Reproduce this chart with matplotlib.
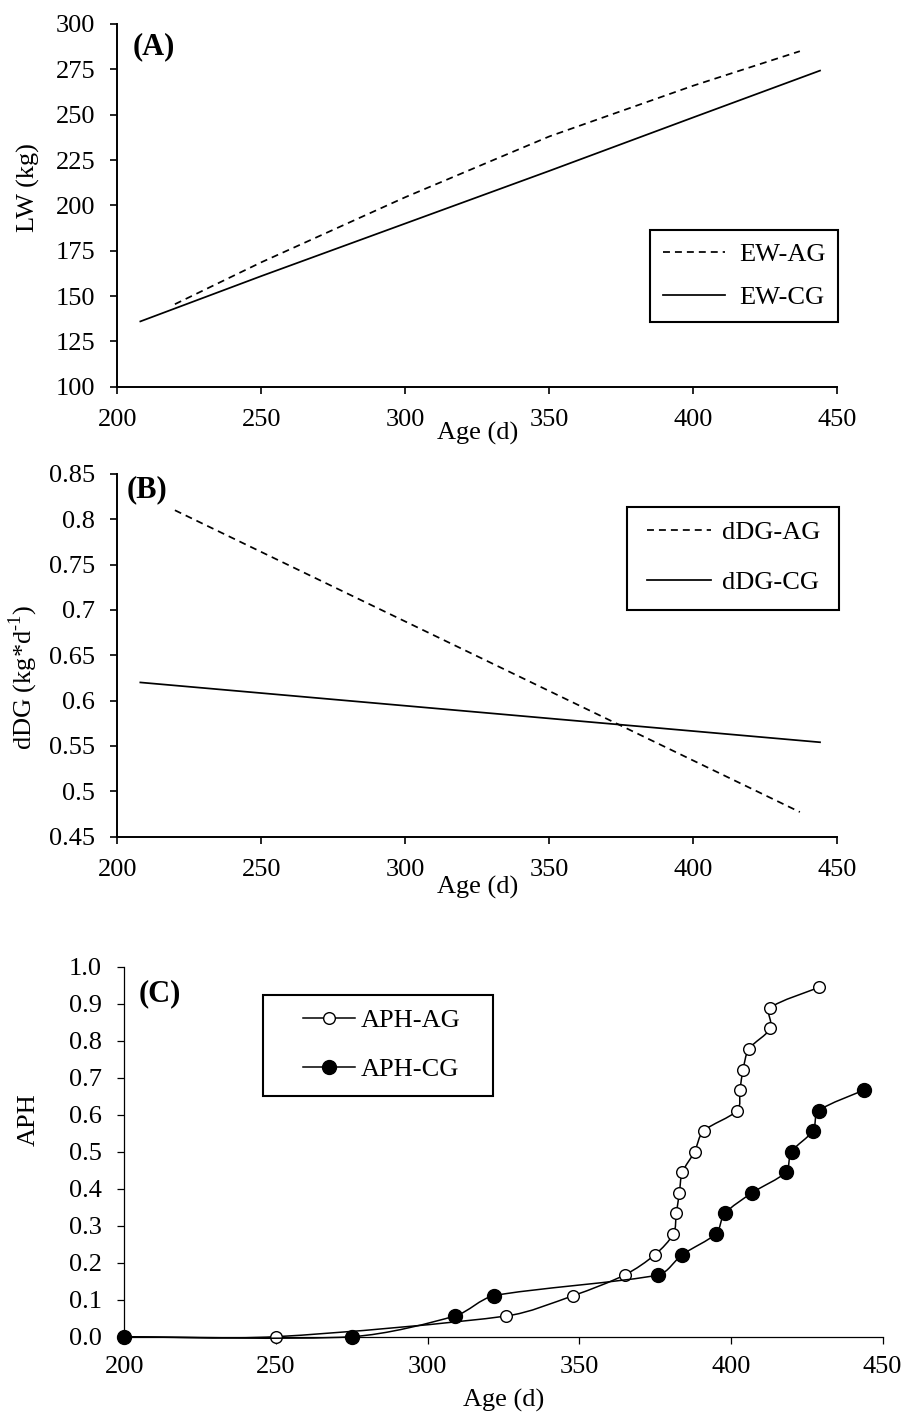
import numpy as np
import matplotlib
matplotlib.use("Agg")
import matplotlib.pyplot as plt
from matplotlib.path import Path
from matplotlib.patches import PathPatch, Rectangle
from matplotlib.lines import Line2D

# ---------------- data ----------------
# Panel A: live weight (kg)
age_ew_ag = [220, 250, 300, 350, 400, 437]
ew_ag = [145.5, 168.6, 204.5, 238.0, 266.0, 285.0]
age_ew_cg = [208, 250, 300, 350, 400, 444]
ew_cg = [136.0, 161.0, 190.0, 219.0, 248.5, 274.3]

# Panel B: daily gain (kg/d)
age_ddg_ag = [220, 437]
ddg_ag = [0.810, 0.477]
age_ddg_cg = [208, 444]
ddg_cg = [0.620, 0.554]

# Panel C: APH
age_aph_ag = [200, 250, 326, 348, 365, 375, 381, 382, 383, 384, 388, 391,
              402, 403, 404, 406, 413, 413, 429]
aph_ag = [0.0, 0.0, 0.056, 0.111, 0.167, 0.222, 0.278, 0.333, 0.389, 0.444,
          0.5, 0.556, 0.611, 0.667, 0.722, 0.778, 0.833, 0.889, 0.944]
age_aph_cg = [200, 275, 309, 322, 376, 384, 395, 398, 407, 418, 420, 427, 429, 444]
aph_cg = [0.0, 0.0, 0.056, 0.111, 0.167, 0.222, 0.278, 0.333, 0.389, 0.444,
          0.5, 0.556, 0.611, 0.667]

x_ticks = [200, 250, 300, 350, 400, 450]
a_yticks = [100, 125, 150, 175, 200, 225, 250, 275, 300]
b_yticks = [0.45, 0.5, 0.55, 0.6, 0.65, 0.7, 0.75, 0.8, 0.85]
b_yticklabels = ["0.45", "0.5", "0.55", "0.6", "0.65", "0.7", "0.75", "0.8", "0.85"]
c_yticks = [0.0, 0.1, 0.2, 0.3, 0.4, 0.5, 0.6, 0.7, 0.8, 0.9, 1.0]
c_yticklabels = ["%.1f" % v for v in c_yticks]

# ---------------- style ----------------
plt.rcParams['font.family'] = ['Liberation Serif', 'DejaVu Serif']
plt.rcParams['mathtext.fontset'] = 'custom'
plt.rcParams['mathtext.rm'] = 'Liberation Serif'
plt.rcParams['lines.scale_dashes'] = False
FS = 19

W, H = 906, 1416
fig = plt.figure(figsize=(W / 100, H / 100), dpi=100)


def px_rect(left, top, right, bottom):
    return [left / W, 1 - bottom / H, (right - left) / W, (bottom - top) / H]


def style_axes(ax, lw, tw):
    for s in ['top', 'right']:
        ax.spines[s].set_visible(False)
    for s in ['left', 'bottom']:
        ax.spines[s].set_linewidth(lw)
    ax.tick_params(axis='both', direction='out', length=5, width=tw,
                   labelsize=FS, colors='black')
    ax.tick_params(axis='y', pad=11)
    ax.tick_params(axis='x', pad=11)


def smooth_path(xs, ys, sx, sy, limit=1.0 / 3.0):
    """Bezier smoothing (Excel-like); control vectors limited in screen scale."""
    pts = np.column_stack([np.asarray(xs, float) * sx, np.asarray(ys, float) * sy])
    n = len(pts)
    verts = [pts[0]]
    codes = [Path.MOVETO]
    for i in range(n - 1):
        p0 = pts[i - 1] if i > 0 else pts[i]
        p1 = pts[i]
        p2 = pts[i + 1]
        p3 = pts[i + 2] if i + 2 < n else pts[i + 1]
        seg = np.hypot(*(p2 - p1))
        d1 = (p2 - p0) / 6.0
        d2 = (p3 - p1) / 6.0
        for d in (d1, d2):
            L = np.hypot(*d)
            if L > limit * seg and L > 0:
                d *= limit * seg / L
        verts += [p1 + d1, p2 - d2, p2]
        codes += [Path.CURVE4] * 3
    v = np.array(verts)
    v[:, 0] /= sx
    v[:, 1] /= sy
    return Path(v, codes)


def legend_box(left, top, right, bottom, lw=1.5):
    fig.patches.append(Rectangle((left / W, 1 - bottom / H), (right - left) / W,
                                 (bottom - top) / H, transform=fig.transFigure,
                                 fill=False, edgecolor='black', linewidth=lw,
                                 zorder=10))


DASH = (0, (5, 3.6))

# ---------------- Panel A ----------------
axA = fig.add_axes(px_rect(117.3, 24, 837.3, 386.7))
style_axes(axA, 1.4, 1.2)
lA1, = axA.plot(age_ew_ag, ew_ag, color='black', lw=1.25, linestyle=DASH)
lA2, = axA.plot(age_ew_cg, ew_cg, color='black', lw=1.25)
axA.set_xlim(200, 450)
axA.set_ylim(100, 300)
axA.set_xticks(x_ticks)
axA.set_yticks(a_yticks)
axA.set_xlabel('Age (d)', fontsize=FS)
axA.xaxis.set_label_coords(0.5, -0.097)
axA.set_ylabel('LW (kg)', fontsize=FS)
axA.yaxis.set_label_coords(-0.107, 0.55)
fig.text(133 / W, 1 - 47 / H, '(A)', fontsize=22, fontweight='bold', va='center', ha='left')
fig.legend([lA1, lA2], ['EW-AG', 'EW-CG'], loc='upper left',
           bbox_to_anchor=(663 / W, 1 - 242.5 / H), frameon=False, fontsize=FS,
           borderpad=0, borderaxespad=0, handlelength=2.35, handletextpad=0.53,
           labelspacing=0.76)
legend_box(650, 230, 838, 322)

# ---------------- Panel B ----------------
axB = fig.add_axes(px_rect(117.3, 474, 837.3, 836.5))
style_axes(axB, 1.4, 1.2)
lB1, = axB.plot(age_ddg_ag, ddg_ag, color='black', lw=1.25, linestyle=DASH)
lB2, = axB.plot(age_ddg_cg, ddg_cg, color='black', lw=1.25)
axB.set_xlim(200, 450)
axB.set_ylim(0.45, 0.85)
axB.set_xticks(x_ticks)
axB.set_yticks(b_yticks)
axB.set_yticklabels(b_yticklabels)
axB.set_xlabel('Age (d)', fontsize=FS)
axB.xaxis.set_label_coords(0.5, -0.108)
axB.set_ylabel('dDG (kg*d$^{\\mathregular{\u2010}1}$)', fontsize=FS)
axB.yaxis.set_label_coords(-0.107, 0.44)
fig.text(127 / W, 1 - 490 / H, '(B)', fontsize=22, fontweight='bold', va='center', ha='left')
fig.legend([lB1, lB2], ['dDG-AG', 'dDG-CG'], loc='upper left',
           bbox_to_anchor=(647 / W, 1 - 520.5 / H), frameon=False, fontsize=FS,
           borderpad=0, borderaxespad=0, handlelength=2.42, handletextpad=0.42,
           labelspacing=1.02)
legend_box(627, 507, 839, 610)

# ---------------- Panel C ----------------
axC = fig.add_axes(px_rect(124.3, 966.7, 882.6, 1336.7))
style_axes(axC, 0.9, 0.9)
axC.tick_params(axis='x', pad=9)
SX, SY = 758.3 / 250.0, 370.0
axC.add_patch(PathPatch(smooth_path(age_aph_ag, aph_ag, SX, SY), facecolor='none',
                        edgecolor='black', lw=1.1, zorder=2, clip_on=False))
axC.plot(age_aph_ag, aph_ag, linestyle='none', marker='o', ms=8.4,
         mfc='white', mec='black', mew=1.0, zorder=3, clip_on=False)
axC.add_patch(PathPatch(smooth_path(age_aph_cg, aph_cg, SX, SY), facecolor='none',
                        edgecolor='black', lw=1.1, zorder=4, clip_on=False))
axC.plot(age_aph_cg, aph_cg, linestyle='none', marker='o', ms=10,
         mfc='black', mec='black', mew=1.0, zorder=5, clip_on=False)
axC.set_xlim(200, 450)
axC.set_ylim(0.0, 1.0)
axC.set_xticks(x_ticks)
axC.set_yticks(c_yticks)
axC.set_yticklabels(c_yticklabels)
axC.set_xlabel('Age (d)', fontsize=FS)
axC.xaxis.set_label_coords(0.5, -0.141)
axC.set_ylabel('APH', fontsize=FS)
axC.yaxis.set_label_coords(-0.111, 0.586)
fig.text(139 / W, 1 - 994 / H, '(C)', fontsize=22, fontweight='bold', va='center', ha='left')
hC1 = Line2D([], [], color='black', lw=1.1, marker='o', ms=8.4, mfc='white', mec='black', mew=1.0)
hC2 = Line2D([], [], color='black', lw=1.1, marker='o', ms=10, mfc='black', mec='black')
fig.legend([hC1, hC2], ['APH-AG', 'APH-CG'], loc='upper left',
           bbox_to_anchor=(303 / W, 1 - 1009 / H), frameon=False, fontsize=FS,
           borderpad=0, borderaxespad=0, handlelength=1.97, handletextpad=0.23,
           labelspacing=0.95, numpoints=1)
legend_box(263, 995, 493, 1096)

fig.savefig('out.png', dpi=100)
